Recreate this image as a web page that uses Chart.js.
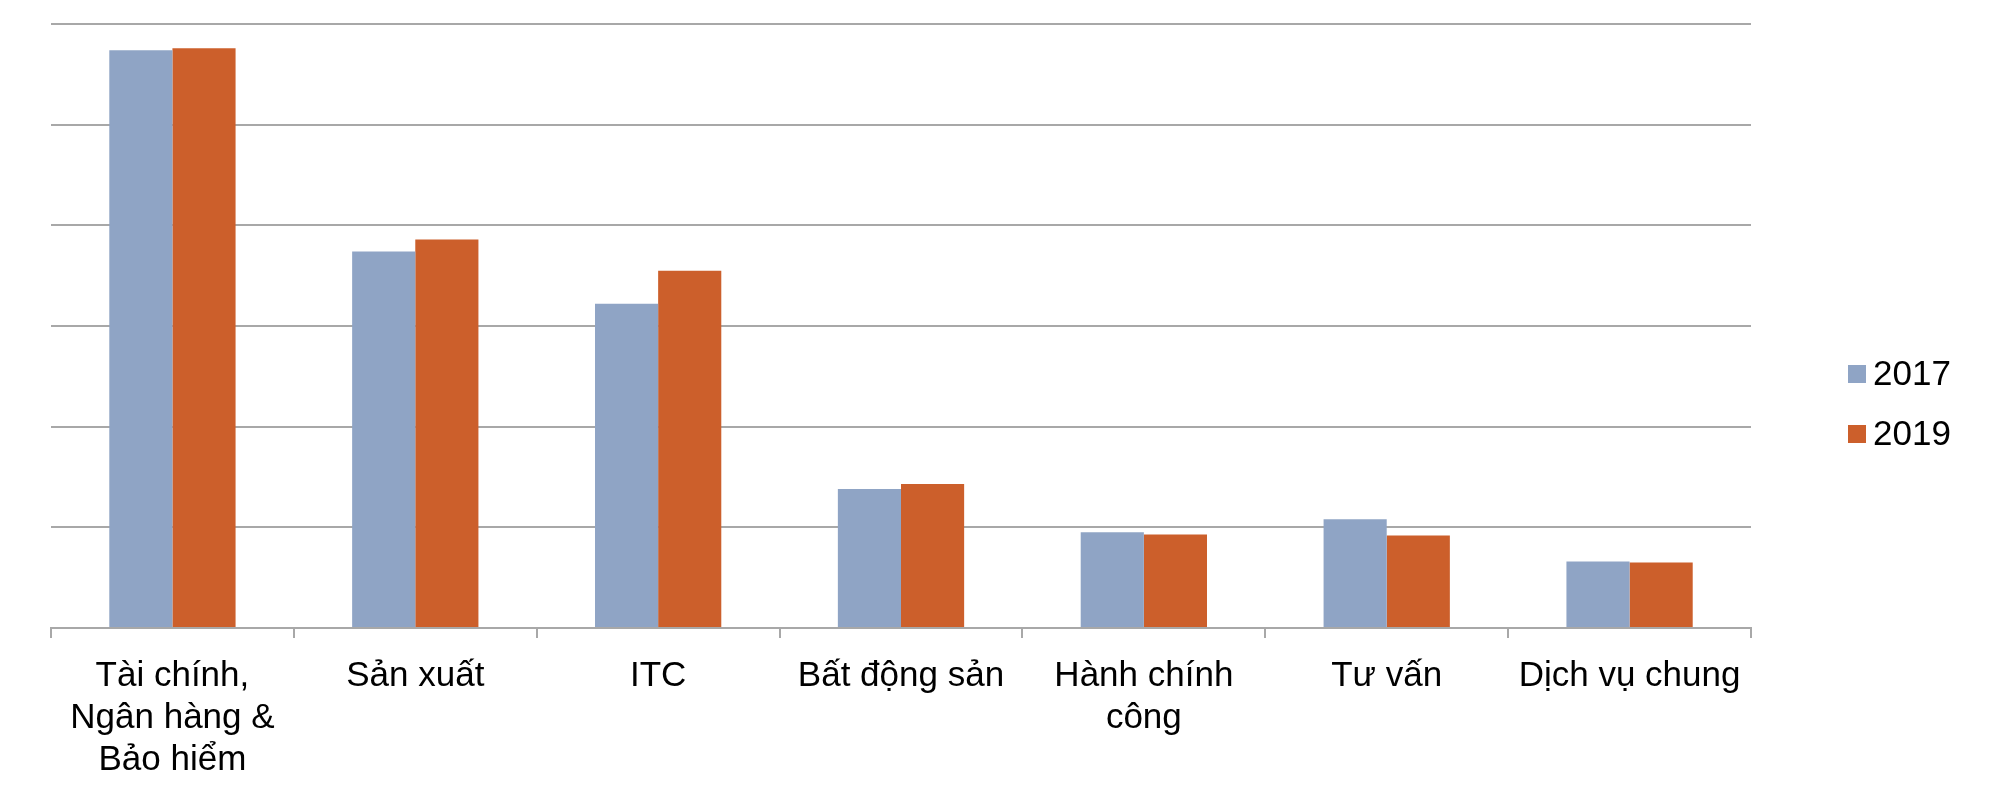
<!DOCTYPE html>
<html>
<head>
<meta charset="utf-8">
<script src="https://cdn.jsdelivr.net/npm/chart.js@4"></script>
<style>
  html, body { margin: 0; padding: 0; background: #fff; }
  #wrap { width: 2000px; height: 808px; }
</style>
</head>
<body>
<div id="wrap"><canvas id="chart" width="2000" height="808"></canvas></div>
<script>
const categories = [
  ['Tài chính,', 'Ngân hàng &', 'Bảo hiểm'],
  'Sản xuất',
  'ITC',
  'Bất động sản',
  ['Hành chính', 'công'],
  'Tư vấn',
  'Dịch vụ chung'
];
const values2017 = [57.4, 37.4, 32.2, 13.8, 9.5, 10.8, 6.6];
const values2019 = [57.6, 38.6, 35.5, 14.3, 9.3, 9.2, 6.5];

const gridColor = '#a8a8a8';
const fontFamily = '"Liberation Sans", Arial, sans-serif';

// legend drawn by hand so the box/text gap matches the original
const sideLegend = {
  id: 'sideLegend',
  afterDraw(chart) {
    const c = chart.ctx;
    c.save();
    c.font = '35px ' + fontFamily;
    c.textBaseline = 'middle';
    chart.data.datasets.forEach((ds, i) => {
      const y = 374 + i * 60;
      c.fillStyle = ds.backgroundColor;
      c.fillRect(1848, y - 9, 18, 18);
      c.fillStyle = '#000';
      c.fillText(ds.label, 1873, y + 1);
    });
    c.restore();
  }
};

const ctx = document.getElementById('chart');

const chart = new Chart(ctx, {
  type: 'bar',
  data: {
    labels: categories,
    datasets: [{
      label: '2017',
      data: values2017,
      backgroundColor: '#8fa4c5',
      barPercentage: 1,
      categoryPercentage: 0.52
    }, {
      label: '2019',
      data: values2019,
      backgroundColor: '#cc5f2b',
      barPercentage: 1,
      categoryPercentage: 0.52
    }]
  },
  options: {
    responsive: false,
    animation: false,
    layout: {
      padding: { left: 51, right: 249, top: 24, bottom: 10 }
    },
    plugins: {
      legend: { display: false },
      tooltip: { enabled: false }
    },
    scales: {
      x: {
        grid: {
          drawOnChartArea: false,
          drawTicks: true,
          tickLength: 10,
          color: gridColor,
          lineWidth: 2
        },
        border: { color: gridColor, width: 2 },
        ticks: {
          color: '#000',
          padding: 17,
          maxRotation: 0,
          autoSkip: false,
          font: { family: fontFamily, size: 35, lineHeight: 1.2 }
        }
      },
      y: {
        min: 0,
        max: 60,
        ticks: { display: false, stepSize: 10 },
        grid: { color: gridColor, lineWidth: 2, drawTicks: false },
        border: { display: false }
      }
    }
  },
  plugins: [sideLegend]
});
</script>
</body>
</html>
